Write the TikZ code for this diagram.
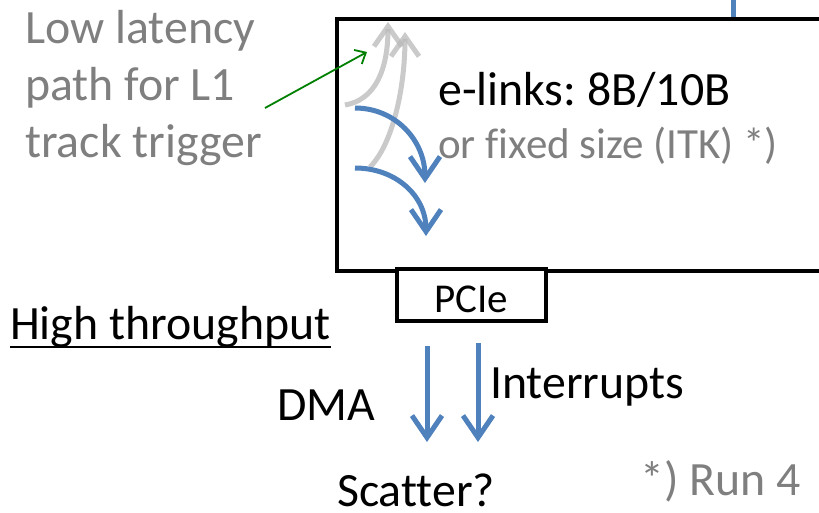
\documentclass[tikz,border=0pt]{standalone}
\usepackage{fontspec}
\setmainfont{Carlito}[Ligatures={NoCommon}]
\usetikzlibrary{arrows.meta}
\definecolor{txtgray}{RGB}{127,127,127}
\definecolor{ablue}{RGB}{79,129,189}
\definecolor{agray}{RGB}{185,185,185}
\definecolor{agreen}{RGB}{0,128,0}
\frenchspacing
\begin{document}
\begin{tikzpicture}[x=1pt,y=-1pt,
  lbl/.style={inner sep=0pt, anchor=base west, font=\fontsize{47.8}{56}\selectfont},
  glbl/.style={lbl, text=txtgray},
  boxline/.style={draw=black, line width=4pt, inner sep=0pt},
  bluearrow/.style={draw=ablue, line width=5pt, -{Straight Barb[length=22pt,width=30pt,line width=5pt]}},
  grayarrow/.style={draw=agray, line width=5pt, opacity=0.75, -{Straight Barb[length=20pt,width=28pt,line width=5pt]}},
  greenarrow/.style={draw=agreen, line width=1.8pt, -{Straight Barb[length=9pt,width=16pt,line width=1.8pt]}}]
\useasboundingbox (0,0) rectangle (819,512);
\clip (0,0) rectangle (819,512);
\fill[white] (0,0) rectangle (819,512);

% main board box (right edge off the picture)
\node (board) [boxline, minimum width=500pt, minimum height=252pt, anchor=north west] at (335,17) {};
% PCIe box
\node (pcie) [boxline, fill=white, minimum width=149pt, minimum height=52pt] at (471.5,295) {};
\node (pcietxt) [inner sep=0pt, anchor=base, font=\fontsize{41}{48}\selectfont] at (471,312) {PCIe};

% blue line entering from above
\coordinate (topin) at (733,0);
\coordinate (topend) at (733,17);
\draw[draw=ablue, line width=5pt] (topin) -- (topend);

% gray upward arrows (low latency path)
\coordinate (g1s) at (345,105);
\coordinate (g1e) at (388,22);
\coordinate (g2s) at (370,167);
\coordinate (g2e) at (405,32);
\draw[grayarrow] (g2s) .. controls (392,145) and (405,90) .. (g2e);
\draw[grayarrow] (g1s) .. controls (375,100) and (388,70) .. (g1e);

% blue curved arrows
\coordinate (b1s) at (355,108);
\coordinate (b1e) at (425,183);
\coordinate (b2s) at (355,168);
\coordinate (b2e) at (426,236);
\draw[bluearrow] (b1s) .. controls (395,108) and (425,140) .. (b1e);
\draw[bluearrow] (b2s) .. controls (395,168) and (426,195) .. (b2e);

% texts
\node (low1) [glbl] at (25,43) {Low latency};
\node (low2) [glbl] at (25,100) {path for L1};
\node (low3) [glbl] at (25,157) {track trigger};
\node (elinks) [lbl] at (438,105) {e-links: 8B/10B};
\node (fixed) [glbl, font=\fontsize{43}{50}\selectfont] at (438,158) {or fixed size (ITK) *)};
\node (high) [lbl] at (10,339) {High throughput};
\draw[line width=2pt] ([yshift=-8pt]high.base west) -- ([yshift=-8pt]high.base east);
\node (dma) [lbl] at (277,420) {DMA};
\node (intr) [lbl] at (490,398) {Interrupts};
\node (scatter) [lbl] at (337,506) {Scatter?};
\node (run) [glbl] at (640,495) {*) Run 4};

% green pointer
\coordinate (gr1) at (265,108);
\coordinate (gr2) at (367,52);
\draw[greenarrow] (gr1) -- (gr2);

% DMA / Interrupt arrows
\coordinate (d1s) at (427,346);
\coordinate (d1e) at (427,442);
\coordinate (d2s) at (478,343);
\coordinate (d2e) at (478,442);
\draw[bluearrow] (d1s) -- (d1e);
\draw[bluearrow] (d2s) -- (d2e);
\end{tikzpicture}
\end{document}
